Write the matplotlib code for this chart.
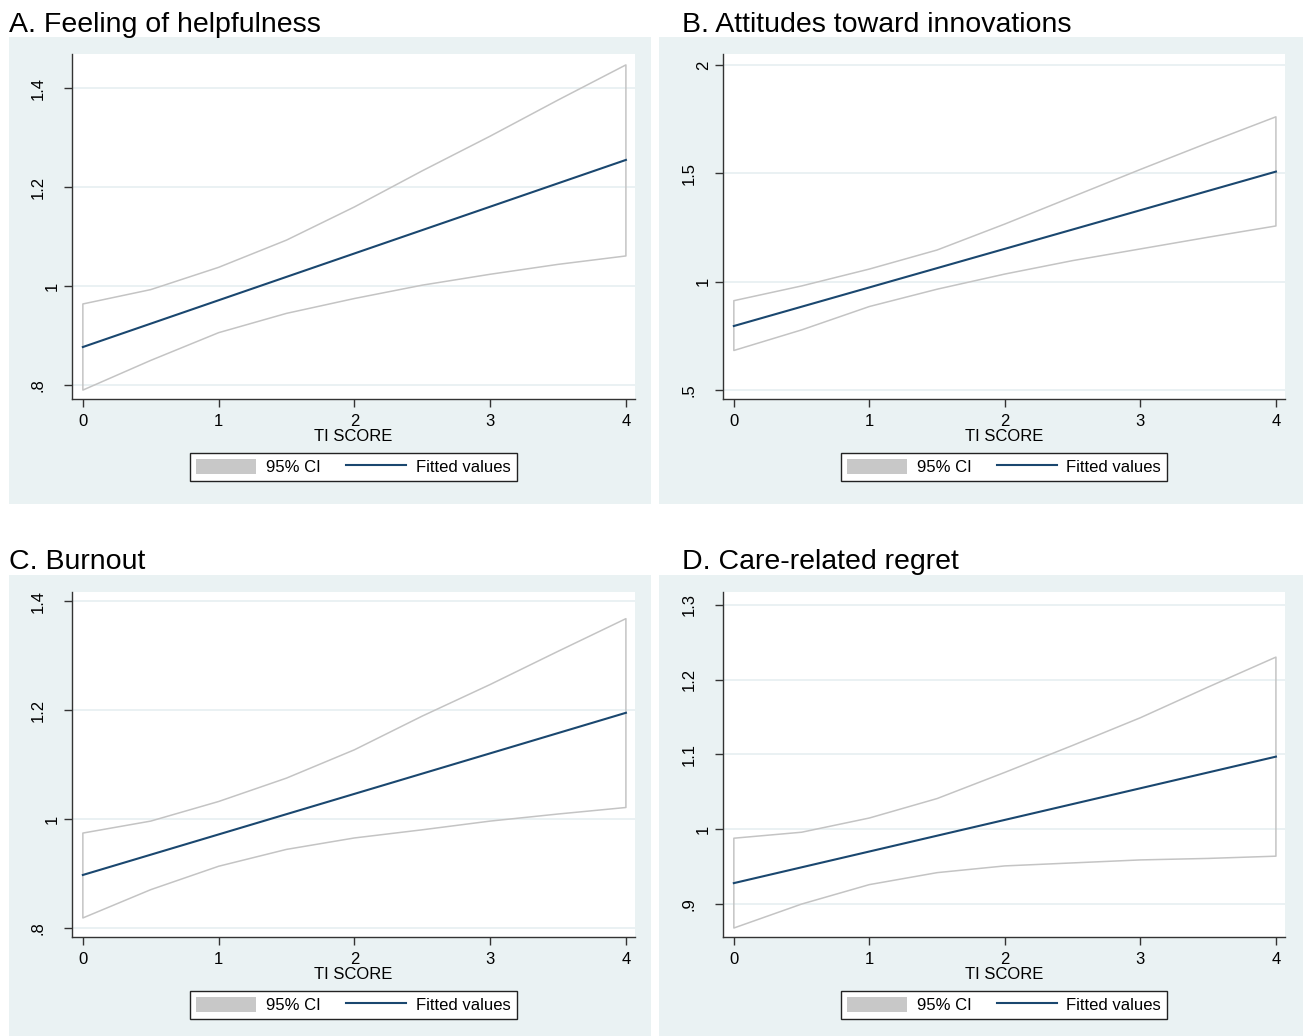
import numpy as np
import matplotlib
matplotlib.use('Agg')
import matplotlib.pyplot as plt
from matplotlib.patches import Rectangle, Patch
from matplotlib.lines import Line2D
from matplotlib.transforms import ScaledTranslation

plt.rcParams['font.family'] = ['Liberation Sans', 'DejaVu Sans']

## Data
ti_score = [0, 0.5, 1, 1.5, 2, 2.5, 3, 3.5, 4]
fit_x = [0, 4]

help_upper = [0.964, 0.993, 1.038, 1.093, 1.160, 1.233, 1.303, 1.376, 1.447]
help_lower = [0.790, 0.850, 0.906, 0.945, 0.975, 1.002, 1.024, 1.044, 1.061]
help_fit = [0.877, 1.255]

innov_upper = [0.912, 0.980, 1.058, 1.146, 1.266, 1.392, 1.518, 1.641, 1.761]
innov_lower = [0.682, 0.777, 0.885, 0.965, 1.035, 1.097, 1.151, 1.205, 1.257]
innov_fit = [0.795, 1.508]

burn_upper = [0.974, 0.996, 1.032, 1.075, 1.127, 1.189, 1.247, 1.308, 1.368]
burn_lower = [0.818, 0.870, 0.913, 0.944, 0.965, 0.980, 0.996, 1.009, 1.021]
burn_fit = [0.897, 1.195]

regret_upper = [0.988, 0.996, 1.015, 1.041, 1.076, 1.112, 1.149, 1.190, 1.230]
regret_lower = [0.868, 0.900, 0.926, 0.942, 0.951, 0.955, 0.959, 0.961, 0.964]
regret_fit = [0.928, 1.097]

titles = ['A. Feeling of helpfulness', 'B. Attitudes toward innovations',
          'C. Burnout', 'D. Care-related regret']
yticks_a = [0.8, 1, 1.2, 1.4]
ylabels_a = ['.8', '1', '1.2', '1.4']
yticks_b = [0.5, 1, 1.5, 2]
ylabels_b = ['.5', '1', '1.5', '2']
yticks_c = [0.8, 1, 1.2, 1.4]
ylabels_c = ['.8', '1', '1.2', '1.4']
yticks_d = [0.9, 1, 1.1, 1.2, 1.3]
ylabels_d = ['.9', '1', '1.1', '1.2', '1.3']
xticks = [0, 1, 2, 3, 4]

## Layout (pixels)
W, H = 1304, 1036
BG = '#eaf2f3'
NAVY = '#1a476f'
CI_COL = '#c4c4c4'
FS = 12

fig = plt.figure(figsize=(W / 100, H / 100), dpi=100)

def fx(px):
    return px / W

def fy(py):
    return 1 - py / H

panels = [
    (titles[0], help_upper, help_lower, help_fit, yticks_a, ylabels_a, (0.772, 1.469),
     (9, 651, 37, 504), (72, 635, 54, 399), (9, 32), 453),
    (titles[1], innov_upper, innov_lower, innov_fit, yticks_b, ylabels_b, (0.458, 2.051),
     (659, 1303, 37, 504), (723, 1285, 54, 399), (682, 32), 453),
    (titles[2], burn_upper, burn_lower, burn_fit, yticks_c, ylabels_c, (0.783, 1.417),
     (9, 651, 575, 1036), (72, 635, 592, 937), (9, 569), 991),
    (titles[3], regret_upper, regret_lower, regret_fit, yticks_d, ylabels_d, (0.856, 1.317),
     (659, 1303, 575, 1036), (723, 1285, 592, 937), (682, 569), 991),
]

for title, up, lo, fit, yt, yl, ylim, bg, box, tpos, leg_top in panels:
    # light panel background
    fig.add_artist(Rectangle((fx(bg[0]), fy(bg[3])), (bg[1] - bg[0]) / W, (bg[3] - bg[2]) / H,
                             transform=fig.transFigure, facecolor=BG, edgecolor='none', zorder=-5))
    fig.text(fx(tpos[0]), fy(tpos[1]), title, fontsize=20.5, va='baseline', ha='left')

    l, r, t, b = box
    ax = fig.add_axes([fx(l), fy(b), (r - l) / W, (b - t) / H])
    ax.set_facecolor('white')

    ax.fill_between(ti_score, lo, up, facecolor='none', edgecolor=CI_COL, lw=1.1, zorder=2)
    ax.plot(fit_x, fit, color=NAVY, lw=1.5, zorder=3)

    ax.set_xlim(-0.08, 4.067)
    ax.set_ylim(*ylim)
    ax.set_xticks(xticks)
    ax.set_yticks(yt)
    ax.set_yticklabels([])
    ax.grid(axis='y', color='#e6eff1', lw=1.2)
    ax.set_axisbelow(True)

    for s in ['top', 'right']:
        ax.spines[s].set_visible(False)
    for s in ['left', 'bottom']:
        ax.spines[s].set_color('#333333')
        ax.spines[s].set_linewidth(1.0)
    ax.tick_params(direction='out', length=6, width=1, color='#333333',
                   labelsize=FS, pad=5)

    # rotated y labels, Stata-like placement
    for v, s in zip(yt, yl):
        off = 19.5 if len(s) == 1 else 34
        tr = ax.get_yaxis_transform() + ScaledTranslation(-off / 100, 0, fig.dpi_scale_trans)
        ax.text(0, v, s, transform=tr, rotation=90, ha='center', va='center', fontsize=FS)

    ax.set_xlabel('TI SCORE', fontsize=FS, labelpad=0)

    handles = [Patch(facecolor='#c8c8c8', edgecolor='none'),
               Line2D([], [], color=NAVY, lw=1.5)]
    leg = ax.legend(handles, ['95% CI', 'Fitted values'], ncol=2, loc='upper center',
                    bbox_to_anchor=(fx((l + r) / 2), fy(leg_top)), bbox_transform=fig.transFigure,
                    fontsize=FS, frameon=True, fancybox=False, edgecolor='#222222',
                    framealpha=1, handlelength=3.6, handleheight=1.0, handletextpad=0.6,
                    columnspacing=1.5, borderpad=0.35, borderaxespad=0)
    leg.get_frame().set_linewidth(1.0)

fig.savefig('out.png', dpi=100, facecolor='white')
